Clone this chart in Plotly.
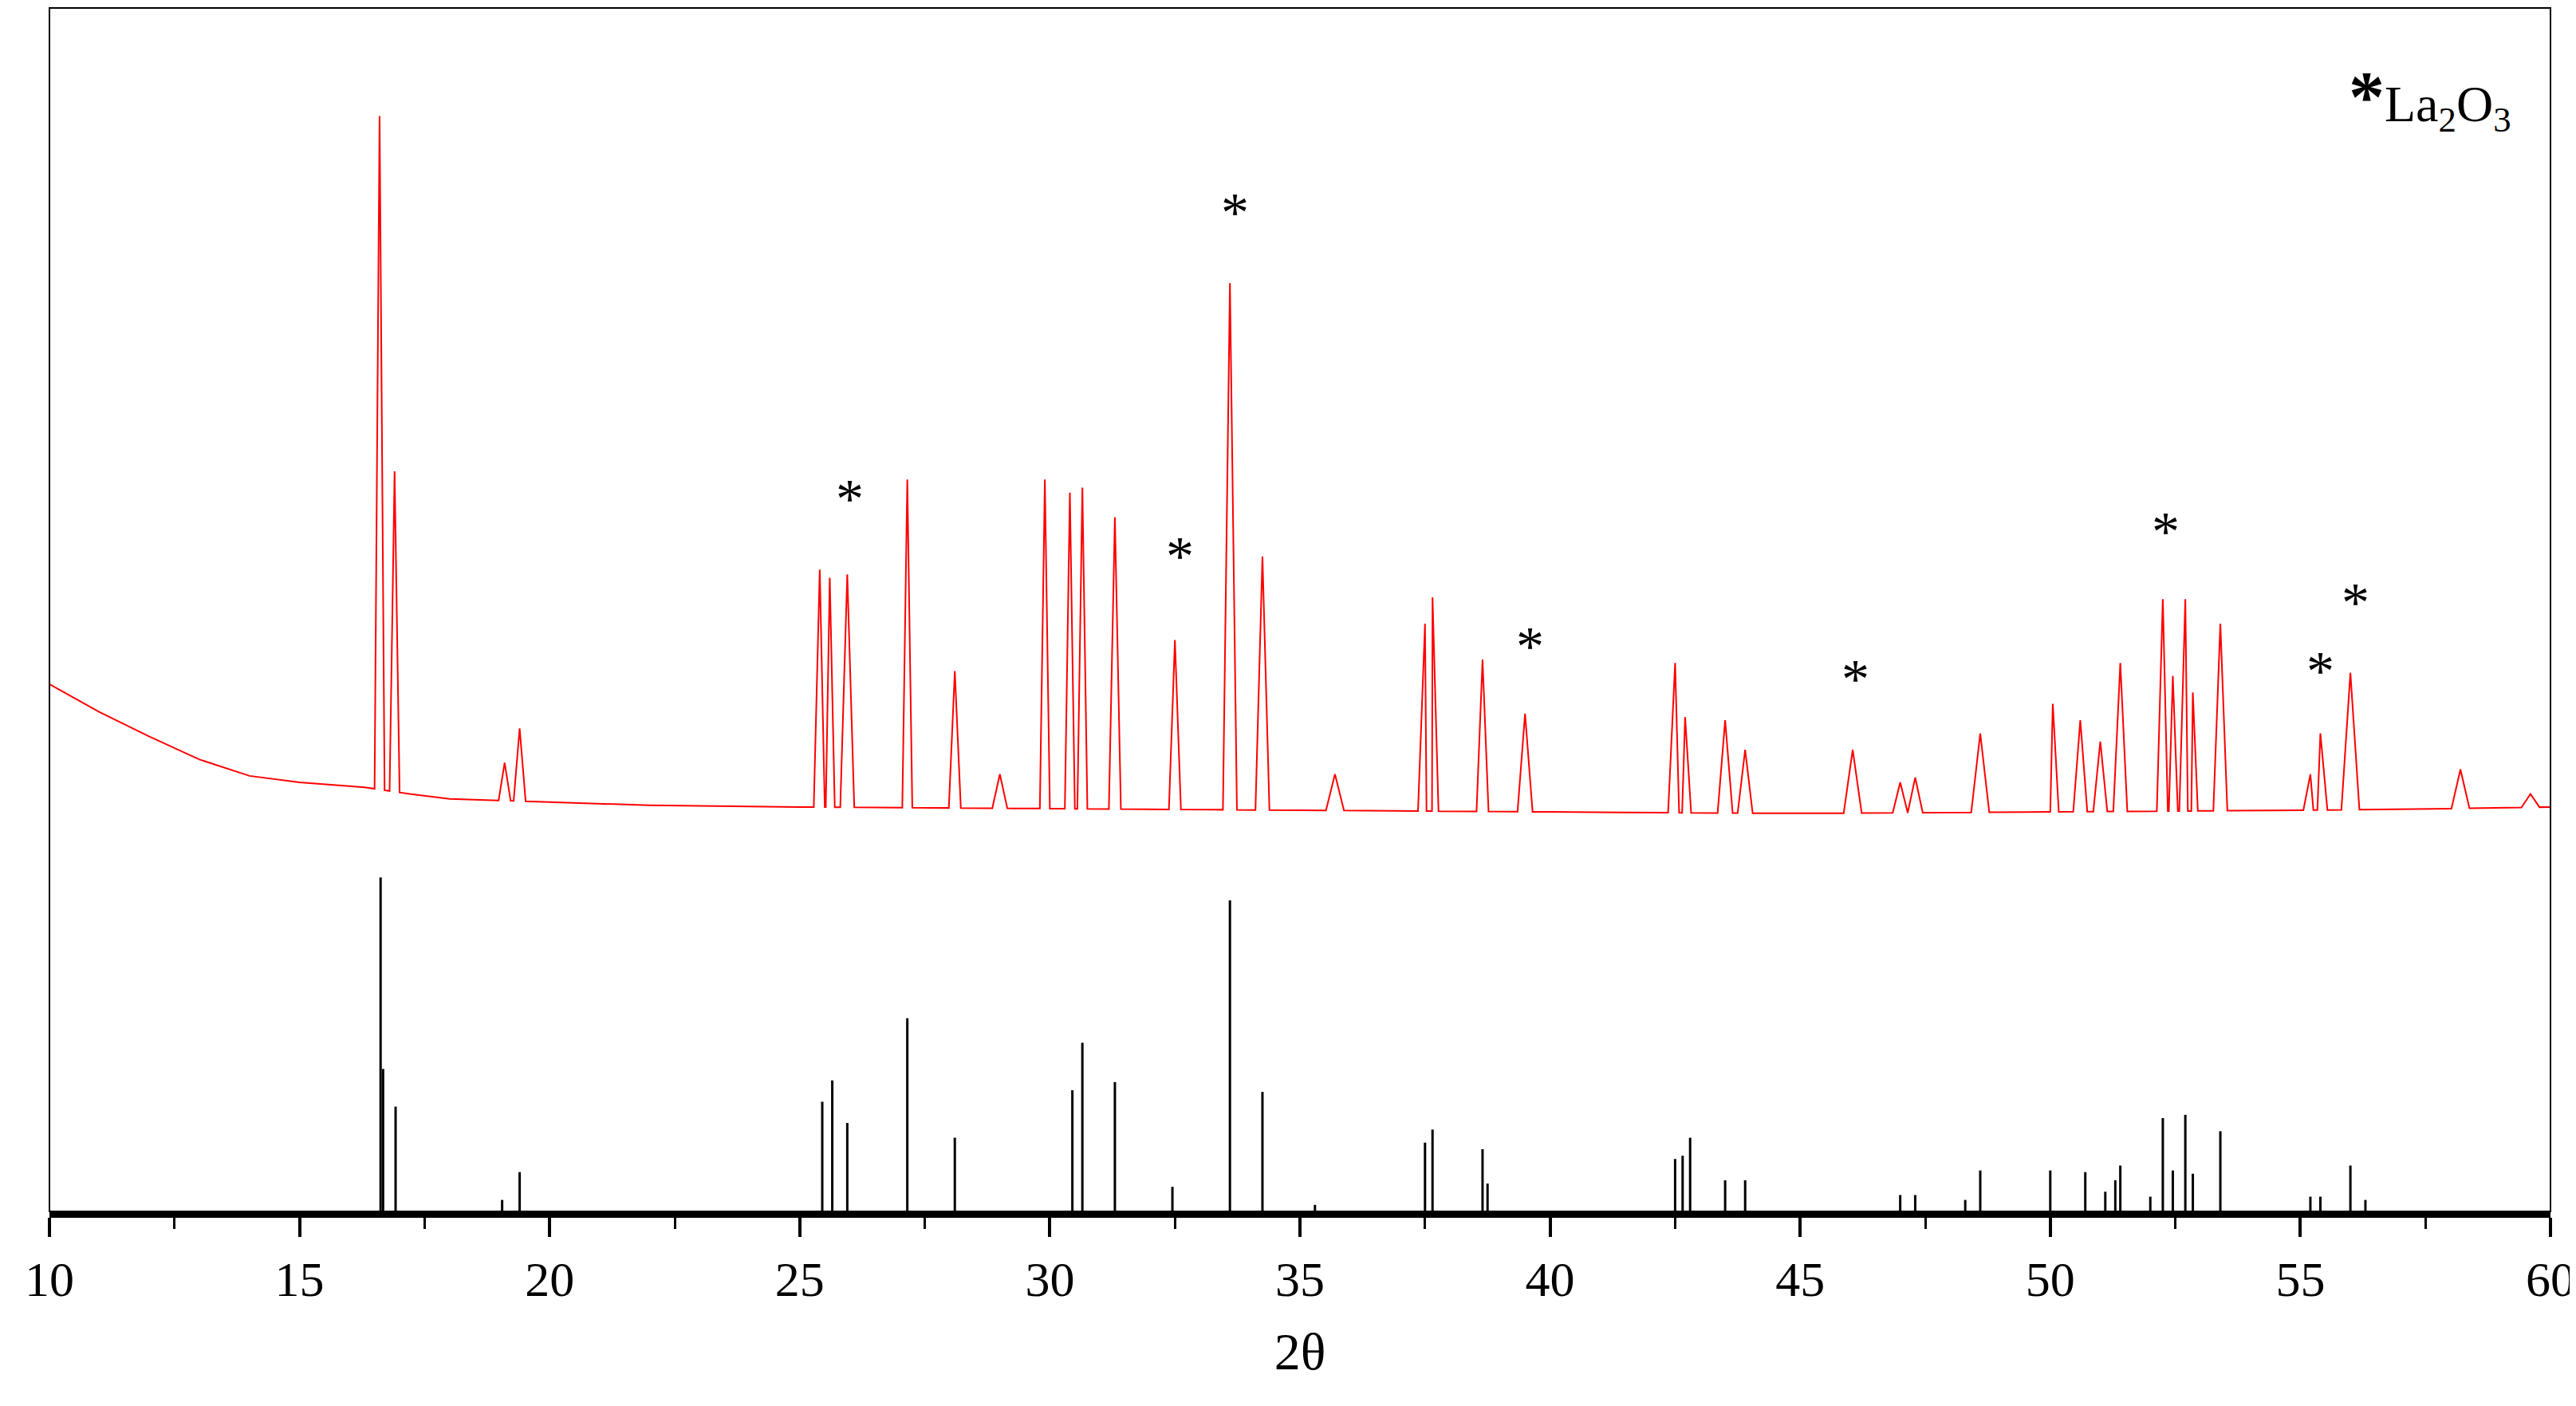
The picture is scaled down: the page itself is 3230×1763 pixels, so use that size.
import plotly.graph_objects as go

# measured XRD pattern (red): baseline anchor points and peak tops, heights in arbitrary units
base_x = [10, 11, 12, 13, 14, 15, 16.3, 17.2, 18, 20, 22, 25, 30, 35, 40, 45, 50, 55, 58, 60]
base_y = [322, 305, 290, 276, 266, 262, 259, 255, 252, 250, 248, 247, 246, 245, 244, 243, 244, 245, 246, 247]
peak_x = [16.6, 16.9, 19.1, 19.4, 25.4, 25.6, 25.95, 27.15, 28.1, 29.0, 29.9, 30.4, 30.65, 31.3,
          32.5, 33.6, 34.25, 35.7, 37.5, 37.65, 38.65, 39.5, 42.5, 42.7, 43.5, 43.9, 46.05, 47.0,
          47.3, 48.6, 50.05, 50.6, 51.0, 51.4, 52.25, 52.45, 52.7, 52.85, 53.4, 55.2, 55.4, 56.0,
          58.2, 59.6]
peak_y = [669, 452, 274, 295, 392, 387, 389, 447, 330, 267, 447, 439, 442, 424,
          349, 567, 400, 267, 359, 375, 337, 304, 335, 302, 300, 282, 282, 262,
          265, 292, 310, 300, 287, 335, 374, 327, 374, 317, 359, 267, 292, 329,
          270, 255]
peak_w = [0.1, 0.1, 0.12, 0.12, 0.12, 0.1, 0.14, 0.1, 0.12, 0.15, 0.1, 0.1, 0.1, 0.12,
          0.12, 0.14, 0.14, 0.18, 0.14, 0.12, 0.12, 0.15, 0.14, 0.12, 0.15, 0.15, 0.18, 0.15,
          0.15, 0.18, 0.12, 0.14, 0.14, 0.14, 0.12, 0.1, 0.12, 0.1, 0.14, 0.14, 0.14, 0.18,
          0.18, 0.18]

# reference pattern (black sticks)
stick_x = [16.62, 16.67, 16.92, 19.05, 19.4, 25.45, 25.65, 25.95, 27.15, 28.1, 30.45, 30.65, 31.3,
           32.45, 33.6, 34.25, 35.3, 37.5, 37.65, 38.65, 38.75, 42.5, 42.65, 42.8, 43.5, 43.9,
           47.0, 47.3, 48.3, 48.6, 50.0, 50.7, 51.1, 51.3, 51.4, 52.0, 52.25, 52.45, 52.7, 52.85,
           53.4, 55.2, 55.4, 56.0, 56.3]
stick_h = [204, 87, 64, 7, 24, 67, 80, 54, 118, 45, 74, 103, 79,
           15, 190, 73, 4, 42, 50, 38, 17, 32, 34, 45, 19, 19,
           10, 10, 7, 25, 25, 24, 12, 19, 28, 9, 57, 25, 59, 23,
           49, 9, 9, 28, 7]

star_x = [26.0, 32.6, 33.7, 39.6, 46.1, 52.3, 55.4, 56.1]
star_y = [435, 400, 610, 345, 325, 415, 330, 372]


def baseline(x):
    for i in range(len(base_x) - 1):
        if base_x[i] <= x <= base_x[i + 1]:
            t = (x - base_x[i]) / (base_x[i + 1] - base_x[i])
            return base_y[i] + t * (base_y[i + 1] - base_y[i])
    return base_y[-1]


# build the red polyline: baseline points plus a triangle for each peak
pts = [(x, y) for x, y in zip(base_x, base_y)]
for x, y, w in zip(peak_x, peak_y, peak_w):
    pts += [(x - w, baseline(x - w)), (x, y), (x + w, baseline(x + w))]
pts.sort()
red_x = [p[0] for p in pts]
red_y = [p[1] for p in pts]

sx, sy = [], []
for x, h in zip(stick_x, stick_h):
    sx += [x, x, None]
    sy += [0, h, None]

fig = go.Figure()
fig.add_trace(go.Scatter(x=red_x, y=red_y, mode="lines", line=dict(color="#ff0000", width=2)))
fig.add_trace(go.Scatter(x=sx, y=sy, mode="lines", line=dict(color="black", width=3)))

font = "Liberation Serif"
for x, y in zip(star_x, star_y):
    fig.add_annotation(x=x, y=y, text="*", showarrow=False, font=dict(family=font, size=70, color="black"))
fig.add_annotation(x=0.985, y=0.96, xref="paper", yref="paper", xanchor="right", yanchor="top",
                   text="<span style='font-size:90px'><b>*</b></span>La<sub>2</sub>O<sub>3</sub>",
                   showarrow=False, font=dict(family=font, size=64, color="black"))

fig.update_layout(
    width=3230, height=1763, showlegend=False,
    plot_bgcolor="white", paper_bgcolor="white",
    margin=dict(l=54, r=40, t=2, b=252),
    font=dict(family=font, size=62, color="black"),
    shapes=[dict(type="rect", xref="paper", yref="paper", x0=0, y0=0, x1=1, y1=1,
                 line=dict(color="black", width=2))],
)
fig.update_xaxes(range=[10, 60], tickvals=[10, 15, 20, 25, 30, 35, 40, 45, 50, 55, 60],
                 ticks="outside", ticklen=24, tickwidth=4, tickcolor="black",
                 minor=dict(dtick=2.5, tick0=10, ticks="outside", ticklen=14, tickwidth=3, tickcolor="black"),
                 showline=True, linewidth=8, linecolor="black", showgrid=False, zeroline=False,
                 title=dict(text="2θ", font=dict(size=66), standoff=36))
fig.update_yaxes(range=[0, 735], showticklabels=False, ticks="", showgrid=False, zeroline=False)

fig.write_html("out.html")
